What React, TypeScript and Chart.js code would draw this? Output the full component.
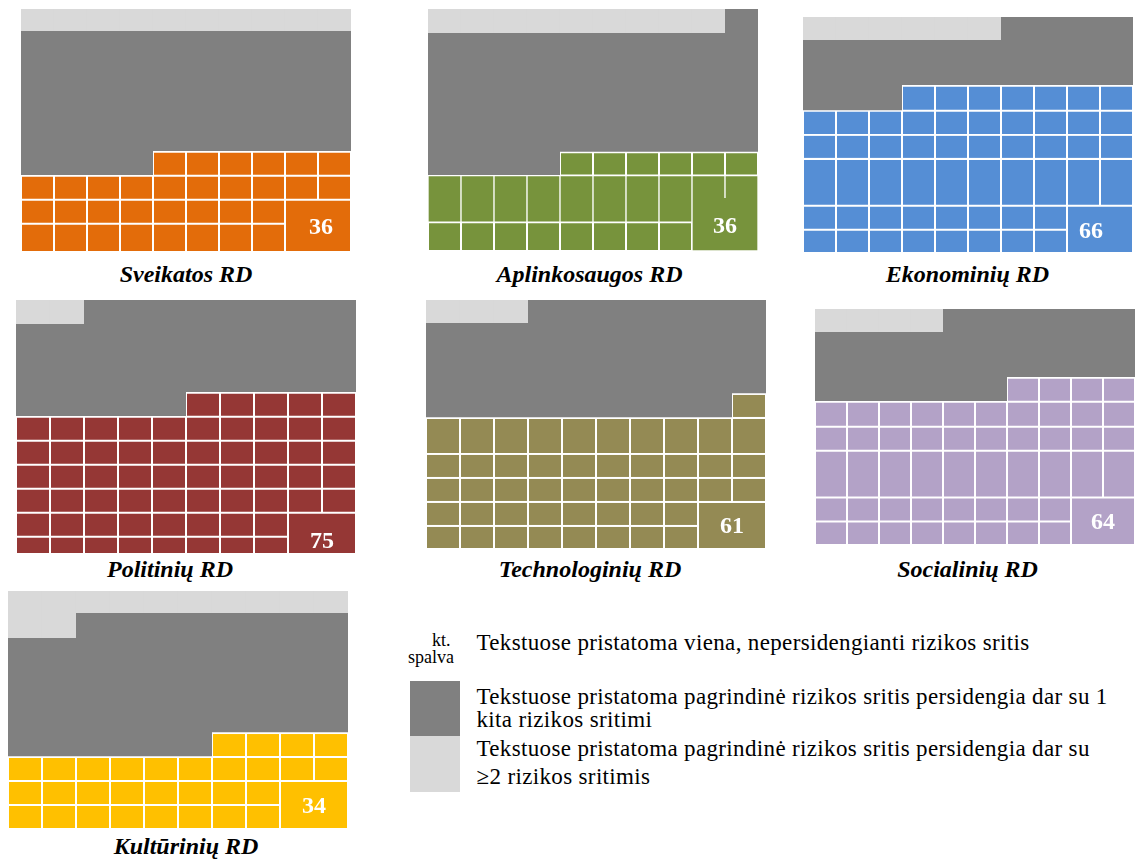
import React, { useEffect, useRef } from "react";
import { Chart, registerables } from "chart.js";

Chart.register(...registerables);

// ---------- DATA ----------
const TITLES = [
  "Sveikatos RD",
  "Aplinkosaugos RD",
  "Ekonominių RD",
  "Politinių RD",
  "Technologinių RD",
  "Socialinių RD",
  "Kultūrinių RD",
];
const VALUES = [36, 36, 66, 75, 61, 64, 34];
const COLORS = ["#E36C0A", "#77933C", "#558ED5", "#953735", "#948A54", "#B3A2C7", "#FFC000"];
const DARK_GRAY = "#808080";
const LIGHT_GRAY = "#D9D9D9";

const COLUMNS = ["1", "2", "3", "4", "5", "6", "7", "8", "9", "10"];

// heights of the coloured cell rows, bottom to top (in cell-row units)
const ROW_HEIGHTS = [
  [1.18, 1, 1, 1],
  [1.2, 1.01, 0.93, 0.97],
  [0.97, 1, 1.95, 1, 1, 1.05],
  [1, 1, 1, 1, 1, 1, 1],
  [0.96, 1, 1, 1, 1.5, 1],
  [0.98, 1, 1.95, 1, 1.04, 1],
  [1, 1, 1, 1],
];
// rows drawn without a dividing line to the row above them
const JOINED_ROWS = [[], [1], [], [], [], [], []];
// number of coloured rows in each of the 10 columns
const COLORED_ROWS = [
  [3, 3, 3, 3, 4, 4, 4, 4, 4, 4],
  [3, 3, 3, 3, 4, 4, 4, 4, 4, 4],
  [5, 5, 5, 6, 6, 6, 6, 6, 6, 6],
  [6, 6, 6, 6, 6, 7, 7, 7, 7, 7],
  [5, 5, 5, 5, 5, 5, 5, 5, 5, 6],
  [5, 5, 5, 5, 5, 5, 6, 6, 6, 6],
  [3, 3, 3, 3, 3, 3, 4, 4, 4, 4],
];
// light gray (>=2 overlapping areas) on top of each column
const LIGHT_ROWS = [
  [0.92, 0.92, 0.92, 0.92, 0.92, 0.92, 0.92, 0.92, 0.92, 0.92],
  [1, 1, 1, 1, 1, 1, 1, 1, 1, 0],
  [0.96, 0.96, 0.96, 0.96, 0.96, 0.96, 0, 0, 0, 0],
  [1, 1, 0, 0, 0, 0, 0, 0, 0, 0],
  [0.96, 0.96, 0.96, 0, 0, 0, 0, 0, 0, 0],
  [0.96, 0.96, 0.96, 0.96, 0, 0, 0, 0, 0, 0],
  [1.96, 1.96, 0.92, 0.92, 0.92, 0.92, 0.92, 0.92, 0.92, 0.92],
];
// visible y range of each waffle (min, max)
const Y_RANGE = [
  [0, 10.125],
  [0, 10.08],
  [0, 9.83],
  [0.32, 10.86],
  [0, 10.375],
  [0, 9.83],
  [0, 9.92],
];
const BLOCK_ROWS = 2; // merged bottom-right cell covers 2 rows x 2 columns
const BLOCK_COLS = 2;

// ---------- LAYOUT / STYLE ----------
const SERIF = '"Liberation Serif", "Times New Roman", serif';
const LINE = 1; // white cell border (each side)
// left, top, width, height of each waffle canvas
const PANEL_BOX = [
  [21, 9, 330, 243],
  [428, 9, 330, 242],
  [803, 17, 330, 236],
  [16, 300, 340, 253],
  [426, 300, 340, 249],
  [815, 309, 320, 236],
  [8, 591, 340, 238],
];
// title centre x, baseline y
const TITLE_POS = [
  [186, 281.5],
  [589.5, 281.5],
  [967.5, 281.5],
  [170, 577],
  [590, 577],
  [967.5, 577],
  [186, 854],
];
// label x offset (px), label y (data units)
const LABEL_POS = [
  [3, 1.0],
  [0, 1.0],
  [-9, 0.875],
  [0, 0.78],
  [0, 0.92],
  [0, 0.92],
  [0, 0.92],
];

const blockLabelPlugin = {
  id: "blockLabel",
  afterDatasetsDraw(chart: any, _args: any, opts: any) {
    const { ctx, scales } = chart;
    const x =
      (scales.x.getPixelForValue(opts.colA) + scales.x.getPixelForValue(opts.colB)) / 2 + opts.dx;
    const y = scales.y.getPixelForValue(opts.y);
    ctx.save();
    ctx.font = `bold 24px ${SERIF}`;
    ctx.fillStyle = "#ffffff";
    ctx.textAlign = "center";
    ctx.textBaseline = "middle";
    ctx.fillText(opts.text, x, y);
    ctx.restore();
  },
};

const sum = (a: number[]) => a.reduce((s, v) => s + v, 0);

function WafflePanel({ index }: { index: number }) {
  const ref = useRef<HTMLCanvasElement>(null);
  const [left, top, width, height] = PANEL_BOX[index];

  useEffect(() => {
    const canvas = ref.current;
    if (!canvas) return;
    const rows = ROW_HEIGHTS[index];
    const cols = COLORED_ROWS[index];
    const light = LIGHT_ROWS[index];
    const joins = JOINED_ROWS[index];
    const [yMin, yMax] = Y_RANGE[index];
    const color = COLORS[index];
    const n = COLUMNS.length;
    const inBlock = (c: number, r: number) => c >= n - BLOCK_COLS && r < BLOCK_ROWS;
    const joinedUp = (r: number) => joins.includes(r);

    const datasets: any[] = [];
    datasets.push({
      label: "block",
      data: cols.map((_k, c) => (c >= n - BLOCK_COLS ? sum(rows.slice(0, BLOCK_ROWS)) : null)),
      backgroundColor: color,
      borderColor: "#ffffff",
      inflateAmount: joinedUp(BLOCK_ROWS - 1) ? 0.33 : 0,
      borderWidth: (ctx: any) => ({
        top: joinedUp(BLOCK_ROWS - 1) ? 0 : LINE,
        bottom: LINE,
        left: ctx.dataIndex === n - BLOCK_COLS ? LINE : 0,
        right: ctx.dataIndex === n - 1 ? LINE : 0,
      }),
    });
    rows.forEach((h, r) => {
      const joined = joinedUp(r) || (r > 0 && joinedUp(r - 1));
      datasets.push({
        label: "row" + r,
        data: cols.map((k, c) => (r < k && !inBlock(c, r) ? h : null)),
        backgroundColor: color,
        borderColor: "#ffffff",
        inflateAmount: joined ? 0.33 : 0,
        borderWidth: {
          top: joinedUp(r) ? 0 : LINE,
          bottom: r > 0 && joinedUp(r - 1) ? 0 : LINE,
          left: LINE,
          right: LINE,
        },
      });
    });
    datasets.push({
      label: "dark",
      data: cols.map((k, c) => yMax - sum(rows.slice(0, k)) - light[c]),
      backgroundColor: DARK_GRAY,
      borderColor: "#ffffff",
      inflateAmount: 0.33,
      borderWidth: { top: 0, bottom: LINE, left: 0, right: 0 },
    });
    datasets.push({
      label: "light",
      data: light.map((v) => (v > 0 ? v : null)),
      backgroundColor: LIGHT_GRAY,
      inflateAmount: 0.33,
      borderWidth: 0,
    });

    const chart = new Chart(canvas, {
      type: "bar",
      data: { labels: COLUMNS, datasets },
      options: {
        responsive: false,
        maintainAspectRatio: false,
        animation: false,
        events: [],
        layout: { padding: 0 },
        datasets: {
          bar: { barPercentage: 1, categoryPercentage: 1, borderSkipped: false },
        } as any,
        scales: {
          x: { display: false, stacked: true },
          y: { display: false, stacked: true, min: yMin, max: yMax },
        },
        plugins: {
          legend: { display: false },
          tooltip: { enabled: false },
          title: { display: false },
          blockLabel: {
            text: String(VALUES[index]),
            colA: n - BLOCK_COLS,
            colB: n - 1,
            dx: LABEL_POS[index][0],
            y: LABEL_POS[index][1],
          },
        } as any,
      },
      plugins: [blockLabelPlugin],
    });
    return () => chart.destroy();
  }, [index]);

  const [cx, base] = TITLE_POS[index];
  return (
    <>
      <div style={{ position: "absolute", left, top, width, height }}>
        <canvas
          ref={ref}
          width={width}
          height={height}
          style={{ display: "block", width, height }}
        />
      </div>
      <div
        style={{
          position: "absolute",
          left: cx - 200,
          width: 400,
          top: base - 20,
          textAlign: "center",
          fontFamily: SERIF,
          fontSize: 24,
          lineHeight: "24px",
          fontWeight: "bold",
          fontStyle: "italic",
          color: "#000",
          whiteSpace: "nowrap",
        }}
      >
        {TITLES[index]}
      </div>
    </>
  );
}

const LEGEND_ITEMS = [
  "Tekstuose pristatoma viena, nepersidengianti rizikos sritis",
  "Tekstuose pristatoma pagrindinė rizikos sritis persidengia dar su 1",
  "kita rizikos sritimi",
  "Tekstuose pristatoma pagrindinė rizikos sritis persidengia dar su",
  "≥2 rizikos sritimis",
];
const LEGEND_BASELINES = [650.3, 704.3, 727.7, 756, 784.3];

function Legend() {
  const textStyle = (baseline: number): React.CSSProperties => ({
    position: "absolute",
    left: 476.5,
    top: baseline - 19.3,
    fontFamily: SERIF,
    fontSize: 23,
    lineHeight: "23px",
    letterSpacing: "0.35px",
    color: "#000",
    whiteSpace: "nowrap",
  });
  const small = (left: number, baseline: number): React.CSSProperties => ({
    position: "absolute",
    left,
    top: baseline - 15.1,
    fontFamily: SERIF,
    fontSize: 18,
    lineHeight: "18px",
    color: "#000",
    whiteSpace: "nowrap",
  });
  return (
    <>
      <div style={small(432, 646)}>kt.</div>
      <div style={small(408, 663)}>spalva</div>
      <div style={{ position: "absolute", left: 410, top: 681, width: 50, height: 55, background: DARK_GRAY }} />
      <div style={{ position: "absolute", left: 410, top: 736, width: 50, height: 56, background: LIGHT_GRAY }} />
      {LEGEND_ITEMS.map((t, i) => (
        <div key={i} style={textStyle(LEGEND_BASELINES[i])}>
          {t}
        </div>
      ))}
    </>
  );
}

export default function App() {
  return (
    <div
      style={{
        position: "absolute",
        left: 0,
        top: 0,
        width: 1136,
        height: 860,
        background: "#ffffff",
        overflow: "hidden",
      }}
    >
      {TITLES.map((_t, i) => (
        <WafflePanel key={i} index={i} />
      ))}
      <Legend />
    </div>
  );
}
